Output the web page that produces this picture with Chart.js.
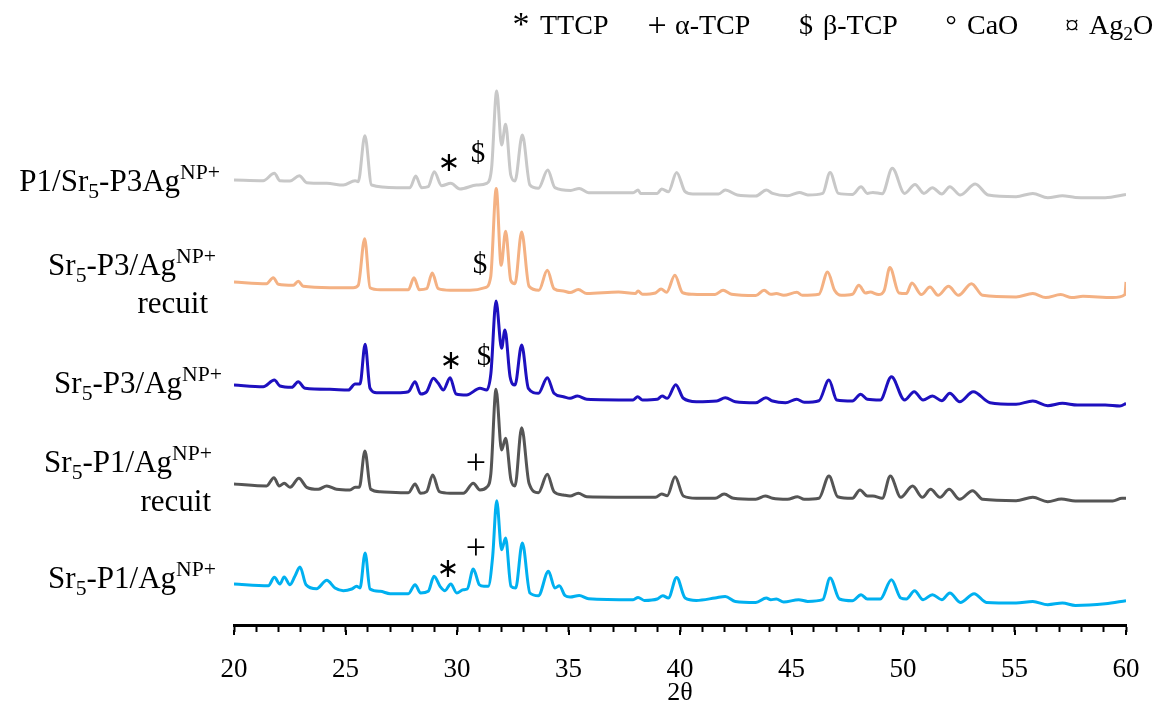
<!DOCTYPE html>
<html>
<head>
<meta charset="utf-8">
<script src="https://cdn.jsdelivr.net/npm/chart.js@4.4.1/dist/chart.umd.min.js"></script>
<style>
	html, body { margin: 0; padding: 0; background: #fff; }
</style>
</head>
<body>
<canvas id="xrdChart" width="1170" height="709"></canvas>
<script>
// 2-theta range and tick step
const thetaRange = [20, 60];
const tickStep = 1;

// Each pattern: [2theta, intensity above its own baseline]
const p1Sr5P3 = [[20.0,0],[21.31,-0.7],[21.81,6.7],[22.06,-0.7],[22.51,-1],[22.93,4.3],[23.26,-2.7],[24.16,-3.3],[24.9,-5],[25.43,-0.7],[25.57,-1.7],[25.87,44.3],[26.17,-5],[27.3,-7.7],[27.89,-7.7],[28.15,4],[28.41,-7.7],[28.71,-6.7],[28.98,8.3],[29.31,-5.7],[29.72,-3.3],[30.13,-9],[30.88,-5],[31.33,-3.3],[31.55,11.7],[31.78,89],[32.0,35],[32.18,55.7],[32.41,5],[32.6,-1],[32.93,45],[33.27,-5],[33.65,-8.3],[34.07,10],[34.39,-7.7],[35.1,-10.5],[35.48,-8.4],[35.9,-12.7],[37.9,-12.7],[38.12,-10],[38.23,-13.4],[38.98,-13.4],[39.18,-9],[39.48,-11.7],[39.85,7.6],[40.23,-11.7],[40.57,-14],[41.73,-14],[42.03,-10],[42.57,-15],[43.4,-16],[43.87,-10],[44.15,-13.4],[44.82,-15.7],[45.35,-12.4],[45.73,-15],[46.4,-13.4],[46.73,7.6],[47.1,-13.4],[47.73,-14.4],[48.12,-6.7],[48.4,-13.4],[48.65,-12.4],[49.07,-13.7],[49.52,11.7],[50.07,-13.4],[50.54,-4.4],[50.94,-13.4],[51.32,-7.7],[51.74,-14],[52.1,-6.7],[52.57,-15],[53.24,-4],[53.82,-15],[55.07,-16.7],[55.82,-13.4],[56.49,-17.7],[57.15,-15.7],[57.73,-17.4],[59.07,-17.7],[60.0,-14.5]];

const sr5P3Recuit = [[20.0,0],[21.46,-1.7],[21.76,4.3],[21.99,-2.3],[22.66,-3.3],[22.88,0.7],[23.11,-4.3],[24.3,-5.7],[25.35,-5.7],[25.57,-3.3],[25.86,43.3],[26.1,-5.7],[26.55,-7.7],[27.82,-7.7],[28.07,4.3],[28.31,-7.7],[28.64,-6.7],[28.89,9],[29.16,-6.7],[29.69,-8.3],[30.58,-8.3],[31.26,-5.7],[31.51,5],[31.76,93.5],[31.98,16.7],[32.18,50.7],[32.41,1.7],[32.6,-1.7],[32.9,50],[33.23,-4.3],[33.67,-8.3],[34.05,11.7],[34.35,-6.7],[34.77,-9],[35.07,-10.6],[35.44,-7.6],[35.82,-11.6],[37.24,-10],[37.99,-11.6],[38.12,-9],[38.32,-12.3],[38.9,-11],[39.15,-7],[39.4,-10.3],[39.77,6.7],[40.11,-10.6],[40.57,-12.3],[41.57,-12.6],[41.93,-8.3],[42.31,-12.3],[43.4,-13.6],[43.77,-8.3],[44.07,-12.3],[44.32,-11.6],[44.65,-13.3],[45.24,-10.3],[45.49,-13.3],[46.23,-12.3],[46.62,10],[46.93,-8.3],[47.23,-13.3],[47.73,-12.3],[48.02,-3.3],[48.32,-11],[48.53,-10],[48.9,-12.6],[49.16,-8.3],[49.41,14.4],[49.82,-11],[50.15,-11.6],[50.4,-1],[50.82,-12.6],[51.21,-5],[51.57,-13.3],[52.04,-4.3],[52.49,-13.3],[53.07,-1.7],[53.57,-13.3],[55.07,-15],[55.82,-11.6],[56.4,-15.6],[57.07,-12.6],[57.57,-15.6],[58.07,-14.3],[59.4,-15.6],[59.95,-12.6],[60.0,0]];

const sr5P3 = [[20.0,0],[21.31,-1.7],[21.81,5],[22.06,-1],[22.59,-2.3],[22.88,3.3],[23.19,-3.3],[24.3,-4.3],[25.13,-5],[25.43,1],[25.65,1],[25.88,40.7],[26.1,-3.3],[26.4,-7.7],[27.3,-7.7],[27.82,-6.7],[28.12,3.3],[28.37,-9],[28.64,-6.7],[28.94,6.7],[29.16,1.7],[29.39,-5],[29.69,7.3],[29.96,-9],[30.43,-10],[31.03,-3.3],[31.33,-5],[31.52,11.7],[31.75,84],[32.0,36.7],[32.15,55],[32.38,8.3],[32.6,0],[32.9,40],[33.2,-3.3],[33.65,-8.3],[34.05,7.3],[34.35,-8.3],[34.77,-11.7],[35.07,-13.3],[35.4,-11],[35.82,-14.3],[37.9,-15],[38.1,-11.7],[38.32,-15],[38.98,-14.3],[39.2,-11],[39.43,-13.3],[39.81,0.3],[40.15,-13.3],[40.73,-16.7],[41.65,-16],[42.03,-12.7],[42.48,-16.7],[43.4,-17.7],[43.85,-12.7],[44.15,-16],[44.73,-17.7],[45.23,-14.3],[45.57,-17.3],[46.23,-15.7],[46.68,5],[47.03,-15],[47.73,-16],[48.1,-9.3],[48.4,-14.3],[48.98,-15],[49.48,8.3],[50.07,-15],[50.5,-6.7],[50.9,-15],[51.32,-11],[51.74,-15.7],[52.1,-8.3],[52.54,-16.7],[53.15,-6.7],[53.9,-17.7],[55.07,-19.3],[55.82,-16],[56.49,-20.7],[57.15,-18.3],[57.82,-20],[59.07,-20],[59.73,-21],[60.0,-18.5]];

const sr5P1Recuit = [[20.0,0],[21.46,-2],[21.79,6.3],[22.03,-2],[22.25,0.7],[22.51,-3.3],[22.91,5.7],[23.26,-3.3],[23.78,-5.3],[24.16,-2],[24.6,-5.3],[25.2,-6],[25.43,-3.3],[25.62,-3.3],[25.87,33],[26.13,-5.3],[26.55,-7.7],[27.82,-8.7],[28.12,0],[28.37,-9.3],[28.64,-7.7],[28.91,9],[29.21,-7.7],[29.69,-9.3],[30.28,-9.3],[30.73,0.7],[31.03,-6],[31.33,-3.3],[31.52,10.7],[31.75,94.7],[32.0,34],[32.18,45.7],[32.42,4],[32.6,-2],[32.9,56.3],[33.23,0.7],[33.65,-8.7],[34.05,9.7],[34.35,-7.7],[34.77,-11],[35.07,-12],[35.44,-9.3],[35.82,-12.7],[38.9,-13.3],[39.18,-10],[39.43,-11.7],[39.78,7.3],[40.15,-12],[40.73,-14.3],[41.57,-14.3],[41.98,-10],[42.4,-14.3],[43.4,-15.3],[43.82,-12],[44.15,-14.3],[44.82,-15.3],[45.27,-12.7],[45.57,-15.3],[46.23,-14.3],[46.68,8],[47.07,-12.7],[47.73,-14.3],[48.07,-6],[48.4,-12],[48.65,-12],[49.07,-14.3],[49.43,8],[49.9,-13.3],[50.43,-2],[50.87,-13.3],[51.24,-5.3],[51.66,-13.3],[52.07,-5.3],[52.54,-15.3],[53.12,-6.7],[53.57,-15.3],[55.07,-16.7],[55.82,-13.3],[56.49,-17.7],[57.1,-15],[57.73,-17],[59.4,-17],[59.82,-14.3],[60.0,-14.3]];

const sr5P1 = [[20.0,0],[21.54,-1.7],[21.81,6.7],[22.06,0],[22.25,7],[22.51,-0.7],[22.73,7.7],[22.96,17],[23.23,-0.7],[23.7,-4.7],[24.16,3.7],[24.53,-4],[24.9,-6.7],[25.28,-5],[25.5,-2.3],[25.65,-4],[25.88,31],[26.1,-5],[26.55,-7.3],[27.0,-9.7],[27.82,-9.7],[28.12,-0.7],[28.37,-9],[28.71,-7.3],[28.97,7.7],[29.24,-2.3],[29.46,-6.7],[29.72,0],[29.99,-9],[30.28,-5.7],[30.46,-5],[30.73,15],[31.0,-0.7],[31.21,-2.3],[31.4,-2.3],[31.6,27.7],[31.78,83.3],[32.0,34.3],[32.18,46],[32.42,-2.3],[32.63,-4],[32.93,41],[33.27,-9],[33.65,-11.7],[34.1,12.7],[34.39,-4],[34.59,-1.7],[34.85,-11.7],[35.07,-13],[35.48,-11.4],[35.9,-14.7],[37.9,-15.7],[38.12,-13.4],[38.4,-16.4],[38.98,-15],[39.23,-11.7],[39.48,-14],[39.85,6.6],[40.23,-14],[40.73,-16.4],[41.57,-14],[42.03,-12.4],[42.48,-17.4],[43.4,-18.4],[43.87,-14],[44.07,-15.7],[44.32,-15],[44.65,-18],[45.32,-15.7],[45.73,-17.4],[46.4,-15.7],[46.73,6],[47.15,-15],[47.73,-16.7],[48.12,-10.7],[48.4,-15],[48.98,-15],[49.48,4.3],[49.9,-14],[50.15,-15],[50.52,-6.7],[50.9,-15.7],[51.32,-10.7],[51.74,-15.7],[52.1,-9],[52.57,-18.4],[53.19,-9.7],[53.74,-18.4],[55.07,-19],[55.82,-17.4],[56.49,-20.7],[57.15,-19],[57.73,-21.4],[59.07,-19.7],[60.0,-16.7]];

// stacking offsets, top to bottom
const patterns = [p1Sr5P3, sr5P3Recuit, sr5P3, sr5P1Recuit, sr5P1];
const offsets = [445, 343, 240, 141, 41];
const colors = ['#c8c8c8', '#f4b183', '#1e10bf', '#555555', '#00b0f0'];

// sample names (text parts: plain, sub, sup)
const sampleLabels = [
	[['P1/Sr'], ['5', 'sub'], ['-P3Ag'], ['NP+', 'sup']],
	[['Sr'], ['5', 'sub'], ['-P3/Ag'], ['NP+', 'sup']],
	[['recuit']],
	[['Sr'], ['5', 'sub'], ['-P3/Ag'], ['NP+', 'sup']],
	[['Sr'], ['5', 'sub'], ['-P1/Ag'], ['NP+', 'sup']],
	[['recuit']],
	[['Sr'], ['5', 'sub'], ['-P1/Ag'], ['NP+', 'sup']]
];
const labelPos = [[220, 191], [216, 275], [208, 313], [222, 393], [212, 472], [211, 511], [216, 588]];

// phase markers: symbol, pattern index, 2theta, height above baseline
const markers = [
	['∗', 0, 29.64, 16], ['$', 0, 30.94, 26],
	['$', 1, 31.03, 17],
	['∗', 2, 29.73, 23], ['$', 2, 31.21, 28],
	['+', 3, 30.85, 19],
	['+', 4, 30.85, 34], ['∗', 4, 29.6, 14]
];

// phase key at the top: symbol centre x, symbol, label start x, label parts
const phaseKey = [
	[521, '*', 540, [['TTCP']]],
	[657, '+', 675, [['α-TCP']]],
	[806, '$', 823, [['β-TCP']]],
	[951, '°', 967, [['CaO']]],
	[1072, '¤', 1089, [['Ag'], ['2', 'sub'], ['O']]]
];

const SERIF = '"Liberation Serif", "DejaVu Serif", serif';

function drawParts(ctx, parts, x, y, size, align) {
	let w = 0;
	parts.forEach(p => {
		ctx.font = (p[1] ? size * 0.7 : size) + 'px ' + SERIF;
		w += ctx.measureText(p[0]).width;
	});
	let cx = align === 'right' ? x - w : x;
	parts.forEach(p => {
		const fs = p[1] ? size * 0.7 : size;
		ctx.font = fs + 'px ' + SERIF;
		let dy = 0;
		if (p[1] === 'sub') dy = size * 0.22;
		if (p[1] === 'sup') dy = -size * 0.4;
		ctx.fillText(p[0], cx, y + dy);
		cx += ctx.measureText(p[0]).width;
	});
}

const textPlugin = {
	id: 'xrdText',
	afterDraw(chart) {
		const ctx = chart.ctx;
		const xs = chart.scales.x;
		const ys = chart.scales.y;
		ctx.save();

		// longer ticks at the labelled values
		ctx.strokeStyle = '#000';
		ctx.lineWidth = 2;
		const axisY = chart.chartArea.bottom;
		for (let v = thetaRange[0]; v <= thetaRange[1]; v += 5) {
			const px = Math.round(xs.getPixelForValue(v));
			ctx.beginPath();
			ctx.moveTo(px, axisY + 5);
			ctx.lineTo(px, axisY + 10);
			ctx.stroke();
		}

		ctx.fillStyle = '#000';
		ctx.textBaseline = 'alphabetic';
		ctx.textAlign = 'left';
		sampleLabels.forEach((parts, i) => {
			drawParts(ctx, parts, labelPos[i][0], labelPos[i][1], 31, 'right');
		});
		phaseKey.forEach(k => {
			drawParts(ctx, k[3], k[2], 34, 28, 'left');
			ctx.textAlign = 'center';
			let fs = 28, by = 34;
			if (k[1] === '*') { fs = 34; by = 35; }
			if (k[1] === '+') { fs = 34; by = 36; }
			ctx.font = fs + 'px ' + SERIF;
			ctx.fillText(k[1], k[0], by);
			ctx.textAlign = 'left';
		});
		ctx.textAlign = 'center';
		ctx.textBaseline = 'middle';
		markers.forEach(m => {
			const px = xs.getPixelForValue(m[2]);
			const py = ys.getPixelForValue(offsets[m[1]] + m[3]);
			if (m[0] === '∗') ctx.font = '27px "DejaVu Sans"';
			else if (m[0] === '+') ctx.font = '36px ' + SERIF;
			else ctx.font = '29px ' + SERIF;
			ctx.fillText(m[0], px, py);
		});
		ctx.restore();
	}
};

const ctx = document.getElementById('xrdChart');
new Chart(ctx, {
	type: 'line',
	data: {
		datasets: patterns.map((pts, i) => ({
			data: pts.map(p => ({ x: p[0], y: p[1] + offsets[i] })),
			borderColor: colors[i],
			borderWidth: 3,
			pointRadius: 0,
			cubicInterpolationMode: 'monotone',
			fill: false
		}))
	},
	options: {
		responsive: false,
		animation: false,
		layout: { padding: { left: 234, right: 44, top: 50, bottom: 0 } },
		plugins: {
			legend: { display: false },
			tooltip: { enabled: false }
		},
		scales: {
			x: {
				type: 'linear',
				min: thetaRange[0],
				max: thetaRange[1],
				afterFit: function(scale) { scale.height = 84; },
				border: { display: true, color: '#000', width: 3 },
				grid: { drawOnChartArea: false, drawTicks: true, tickLength: 7, tickWidth: 2, tickColor: '#000' },
				ticks: {
					stepSize: tickStep,
					maxTicksLimit: 60,
					autoSkip: false,
					maxRotation: 0,
					padding: 22,
					color: '#000',
					font: { family: SERIF, size: 27 },
					callback: v => (v % 5 === 0 ? String(v) : '')
				},
				title: {
					display: true,
					text: '2θ',
					color: '#000',
					font: { family: SERIF, size: 26 },
					padding: { top: 0, bottom: 0 }
				}
			},
			y: {
				display: false,
				min: 0,
				max: 575
			}
		}
	},
	plugins: [textPlugin]
});
</script>
</body>
</html>
